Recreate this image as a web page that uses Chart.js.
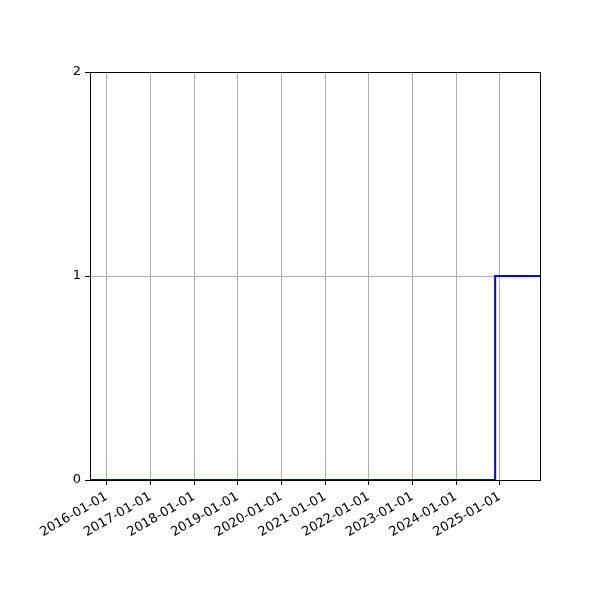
<!DOCTYPE html>
<html>
<head>
<meta charset="utf-8">
<script src="https://cdn.jsdelivr.net/npm/chart.js@4"></script>
<style>
  html, body { margin: 0; padding: 0; background: #fff; }
  canvas { display: block; }
</style>
</head>
<body>
<canvas id="myChart" width="600" height="600"></canvas>
<script>
// cumulative count, drawn as a step line
var dates = ["2015-08-15", "2024-11-23", "2025-12-03"];
var counts = [0, 1, 1];
var tickDates = ["2016-01-01", "2017-01-01", "2018-01-01", "2019-01-01", "2020-01-01",
  "2021-01-01", "2022-01-01", "2023-01-01", "2024-01-01", "2025-01-01"];
var yTicks = [0, 1, 2];

var points = dates.map(function (d, i) {
  return { x: Date.parse(d), y: counts[i] };
});

var frame = {
  id: "frame",
  afterDraw: function (chart) {
    var a = chart.chartArea;
    var c = chart.ctx;
    c.save();
    c.strokeStyle = "#000";
    c.lineWidth = 1;
    c.strokeRect(Math.round(a.left) + 0.5, Math.round(a.top) + 0.5,
      Math.round(a.right - a.left), Math.round(a.bottom - a.top));
    c.restore();
  },
};

Chart.defaults.font.family = "'DejaVu Sans', sans-serif";
Chart.defaults.font.size = 13;
Chart.defaults.color = "#000";

var ctx = document.getElementById("myChart");
var myChart = new Chart(ctx, {
  type: "line",
  data: {
    datasets: [
      {
        data: points,
        borderColor: "#0000ff",
        borderWidth: 2,
        stepped: "before",
        pointRadius: 0,
        fill: false,
        clip: 2,
      },
    ],
  },
  options: {
    responsive: false,
    animation: false,
    layout: { padding: { top: 72, right: 60, left: 0, bottom: 0 } },
    plugins: {
      legend: { display: false },
      tooltip: { enabled: false },
    },
    scales: {
      x: {
        type: "linear",
        min: Date.parse(dates[0]),
        max: Date.parse(dates[dates.length - 1]),
        afterBuildTicks: function (scale) {
          scale.ticks = tickDates.map(function (d) {
            return { value: Date.parse(d) };
          });
        },
        afterFit: function (scale) {
          scale.height = 120;
        },
        ticks: {
          autoSkip: false,
          minRotation: 30,
          maxRotation: 30,
          padding: 4,
          callback: function (value) {
            return new Date(value).toISOString().slice(0, 10);
          },
        },
        grid: { color: "#b0b0b0", tickColor: "#000", tickLength: 5, lineWidth: 1 },
        border: { color: "#000" },
      },
      y: {
        min: 0,
        max: 2,
        afterBuildTicks: function (scale) {
          scale.ticks = yTicks.map(function (v) {
            return { value: v };
          });
        },
        afterFit: function (scale) {
          scale.width = 90;
        },
        ticks: { padding: 4 },
        grid: { color: "#b0b0b0", tickColor: "#000", tickLength: 5, lineWidth: 1 },
        border: { color: "#000" },
      },
    },
  },
  plugins: [frame],
});
</script>
</body>
</html>
